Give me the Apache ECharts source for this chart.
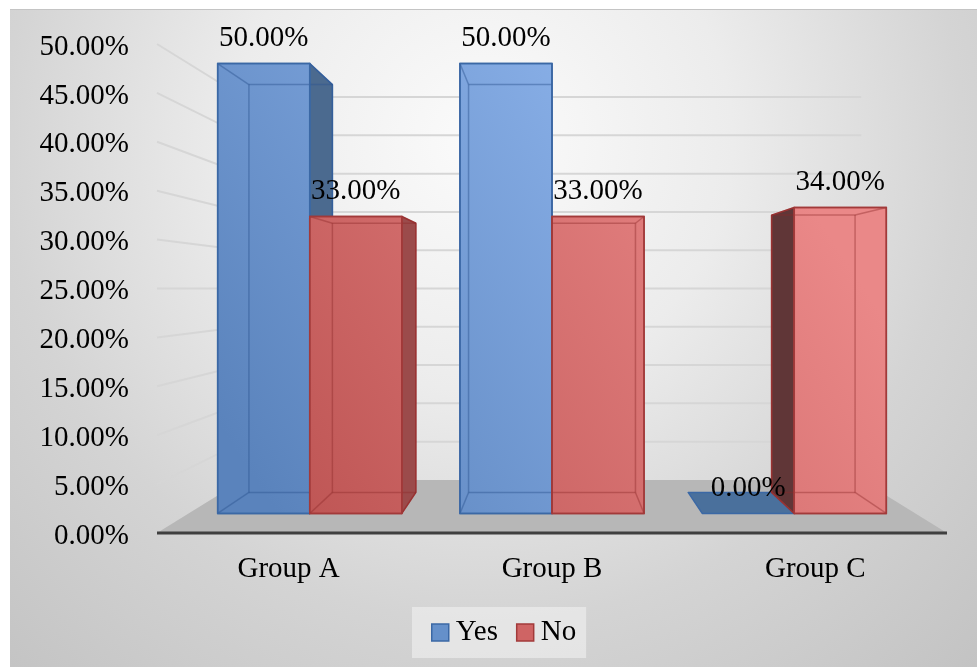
<!DOCTYPE html>
<html>
<head>
<meta charset="utf-8">
<script src="https://cdn.jsdelivr.net/npm/echarts@6/dist/echarts.min.js"></script>
<style>
  html, body { margin: 0; padding: 0; background: #ffffff; }
  #frame {
    position: absolute; left: 10px; top: 9px; width: 967px; height: 658px;
    border-top: 1px solid #c4c4c4; box-sizing: border-box;
    background: radial-gradient(circle at 473px 131px, #fbfbfb 0px, #ececec 250px, #d4d4d4 480px, #c3c3c3 720px);
  }
  #chart { position: absolute; left: 0; top: 0; width: 977px; height: 667px; }
</style>
</head>
<body>
<div id="frame"></div>
<div id="chart"></div>
<script>
// Survey answers per group, in percent
const categories = ['Group A', 'Group B', 'Group C'];
const yesValues = [50, 50, 0];
const noValues = [33, 33, 34];
const tickValues = [0, 5, 10, 15, 20, 25, 30, 35, 40, 45, 50];
const tickLabels = tickValues.map(v => v.toFixed(2) + '%');

const FONT = "'Liberation Serif', 'Times New Roman', serif";
const FONT_SIZE = 29;

// Perspective depth factors (1 = front plane of the floor)
const Z_BAR_FRONT = 0.92;
const Z_BAR_BACK = 0.834;
const Z_WALL = 0.783;
const BAR_SHARE = 0.38;   // bar width as a share of the category band
const LABEL_GAP = 25;     // label centre above the front top edge
const TICK_MARGIN = 28;   // gap between value labels and the front wall edge
const TICK_DROP = 3;      // value labels sit slightly below their grid level

const palettes = {
  Yes: { lo: '#5a83bc', hi: '#93b9f1', edge: '#3b68a5', sideR: '#4b6a8f', sideL: '#34465f',
         flat: '#4a709c', ghost: 'rgba(45,85,145,0.45)' },
  No:  { lo: '#bd5453', hi: '#ea8888', edge: '#a23a3a', sideR: '#9b4b4b', sideL: '#603637',
         flat: '#b05050', ghost: 'rgba(140,40,40,0.4)' }
};

function perspective(cs) {
  const vx = cs.x + cs.width / 2, vy = cs.y + cs.height / 2;
  return (x, y, f) => [vx + (x - vx) * f, vy + (y - vy) * f];
}

// Front and back corner points of one box: [bottom-left, bottom-right, top-right, top-left]
function boxGeometry(params, api, side) {
  const cs = params.coordSys;
  const P = perspective(cs);
  const idx = api.value(0), val = api.value(1);
  const base = api.coord([idx, 0]);
  const top = api.coord([idx, val]);
  const w = api.size([1, 0])[0] * BAR_SHARE;
  const xl = side === 0 ? base[0] - w : base[0];
  const xr = xl + w;
  const yb = base[1], yt = top[1];
  const corners = f => [P(xl, yb, f), P(xr, yb, f), P(xr, yt, f), P(xl, yt, f)];
  return { cs, val, xl, xr, yb, yt, vx: cs.x + cs.width / 2,
           front: corners(Z_BAR_FRONT), back: corners(Z_BAR_BACK) };
}

function wallRenderer(params, api) {
  const cs = params.coordSys;
  const P = perspective(cs);
  const x0 = cs.x, x1 = cs.x + cs.width;
  const y0 = api.coord([0, tickValues[0]])[1];
  const children = [];
  tickValues.forEach((v, i) => {
    const y = api.coord([0, v])[1];
    children.push({ type: 'text',
      style: { text: tickLabels[i], x: x0 - TICK_MARGIN, y: y + TICK_DROP, align: 'right',
               verticalAlign: 'middle', font: FONT_SIZE + 'px ' + FONT, fill: '#000' } });
    if (i === 0) return;
    const a = P(x0, y, 1), b = P(x0, y, Z_WALL), c = P(x1, y, Z_WALL);
    children.push({ type: 'polyline', shape: { points: [a, b, c] },
      style: { stroke: '#d6d6d6', lineWidth: 2, fill: null } });
  });
  children.push({ type: 'polygon',
    shape: { points: [P(x0, y0, 1), P(x1, y0, 1), P(x1, y0, Z_WALL), P(x0, y0, Z_WALL)] },
    style: { fill: '#b7b7b7' } });
  const l = P(x0, y0, 1), r = P(x1, y0, 1);
  children.push({ type: 'line', shape: { x1: l[0], y1: l[1], x2: r[0], y2: r[1] },
    style: { stroke: '#3f3f3f', lineWidth: 3 } });
  return { type: 'group', children };
}

function barRenderer(name, side) {
  const pal = palettes[name];
  return function (params, api) {
    const g = boxGeometry(params, api, side);
    const f = g.front, b = g.back, cs = g.cs;
    const grad = {
      type: 'linear', global: true,
      x: cs.x + cs.width * 0.14, y: cs.y + cs.height * 0.93,
      x2: cs.x + cs.width * 0.79, y2: cs.y + cs.height * 0.24,
      colorStops: [{ offset: 0, color: pal.lo }, { offset: 1, color: pal.hi }]
    };
    const poly = (pts, fill) => ({ type: 'polygon', shape: { points: pts },
      style: { fill, stroke: pal.edge, lineWidth: 1.5, lineJoin: 'round' } });
    const seg = (a, c) => ({ type: 'line', shape: { x1: a[0], y1: a[1], x2: c[0], y2: c[1] },
      style: { stroke: pal.ghost, lineWidth: 1.5 } });
    const children = [];
    if (Math.abs(g.yt - g.yb) < 0.5) {
      children.push(poly([f[0], f[1], b[1], b[0]], pal.flat));
    } else {
      if (g.xr < g.vx - 0.5) children.push(poly([f[1], f[2], b[2], b[1]], pal.sideR));
      if (g.xl > g.vx + 0.5) children.push(poly([f[0], f[3], b[3], b[0]], pal.sideL));
      children.push(poly(f, grad));
      // back edges seen through the glassy front face
      children.push(seg(b[0], b[1]), seg(b[1], b[2]), seg(b[2], b[3]), seg(b[3], b[0]));
      for (let i = 0; i < 4; i++) children.push(seg(f[i], b[i]));
      children.push({ type: 'polygon', shape: { points: f },
        style: { fill: null, stroke: pal.edge, lineWidth: 1.5 } });
    }
    return { type: 'group', children };
  };
}

function labelRenderer(side) {
  return function (params, api) {
    const g = boxGeometry(params, api, side);
    const f = g.front;
    return { type: 'text',
      style: { text: g.val.toFixed(2) + '%', x: (f[2][0] + f[3][0]) / 2, y: f[3][1] - LABEL_GAP,
               align: 'center', verticalAlign: 'middle', font: FONT_SIZE + 'px ' + FONT, fill: '#000' } };
  };
}

const yesData = categories.map((c, i) => [i, yesValues[i]]);
const noData = categories.map((c, i) => [i, noValues[i]]);

const chart = echarts.init(document.getElementById('chart'), null, { renderer: 'canvas' });
chart.setOption({
  animation: false,
  backgroundColor: 'transparent',
  grid: { left: 157, right: 30, top: 44, bottom: 134 },
  xAxis: {
    type: 'category', data: categories,
    axisLine: { show: false }, axisTick: { show: false }, splitLine: { show: false },
    axisLabel: { fontFamily: FONT, fontSize: FONT_SIZE, color: '#000', margin: 22 }
  },
  yAxis: {
    type: 'value', min: tickValues[0], max: tickValues[tickValues.length - 1], interval: 5,
    axisLine: { show: false }, axisTick: { show: false }, splitLine: { show: false },
    axisLabel: { show: false }
  },
  legend: {
    data: [
      { name: 'Yes', itemStyle: { color: '#6590ca', borderColor: '#3b68a5', borderWidth: 1.5 } },
      { name: 'No', itemStyle: { color: '#cf6464', borderColor: '#a23a3a', borderWidth: 1.5 } }
    ],
    icon: 'rect', left: 412, top: 607, padding: [11, 10, 11, 19],
    itemWidth: 17, itemHeight: 17, itemGap: 18,
    backgroundColor: 'rgba(236,236,236,0.7)',
    textStyle: { fontFamily: FONT, fontSize: 29, color: '#000', padding: [0, 0, 0, 2] }
  },
  series: [
    { type: 'custom', name: 'walls', z: 1, silent: true, clip: false,
      renderItem: wallRenderer, data: [[0, 0]], encode: { x: 0, y: 1 } },
    { type: 'custom', name: 'Yes', z: 2, clip: false, itemStyle: { color: '#6590ca' },
      renderItem: barRenderer('Yes', 0), data: yesData, encode: { x: 0, y: 1 } },
    { type: 'custom', name: 'No', z: 3, clip: false, itemStyle: { color: '#cf6464' },
      renderItem: barRenderer('No', 1), data: noData, encode: { x: 0, y: 1 } },
    { type: 'custom', name: 'Yes labels', z: 4, silent: true, clip: false,
      renderItem: labelRenderer(0), data: yesData, encode: { x: 0, y: 1 } },
    { type: 'custom', name: 'No labels', z: 4, silent: true, clip: false,
      renderItem: labelRenderer(1), data: noData, encode: { x: 0, y: 1 } }
  ]
});
</script>
</body>
</html>
